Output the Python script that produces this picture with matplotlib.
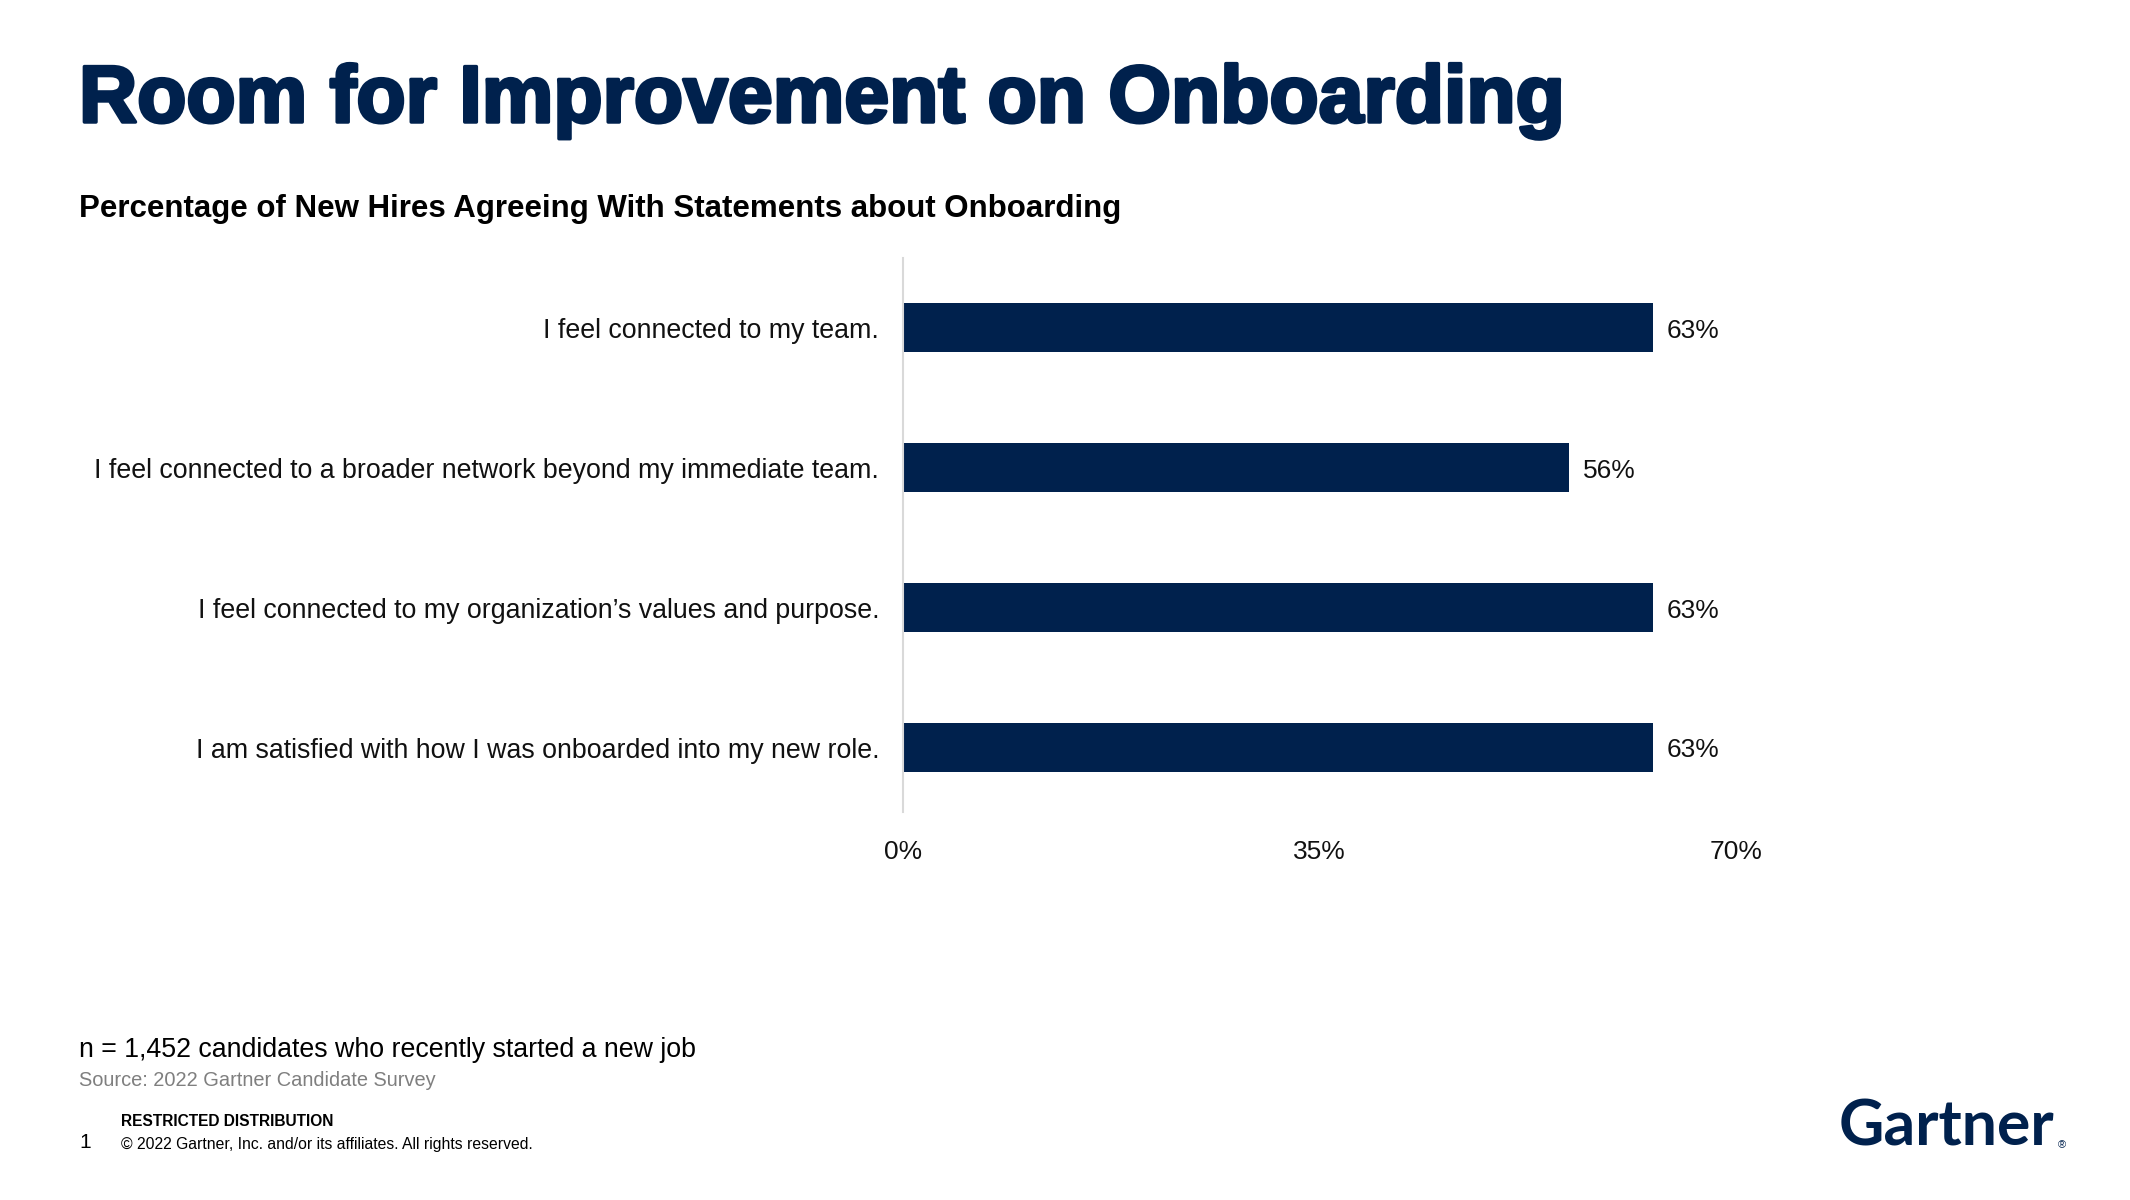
import matplotlib
matplotlib.use("Agg")
import matplotlib.pyplot as plt
import matplotlib.patheffects as pe

# data
statements = [
    "I feel connected to my team.",
    "I feel connected to a broader network beyond my immediate team.",
    "I feel connected to my organization\u2019s values and purpose.",
    "I am satisfied with how I was onboarded into my new role.",
]
pct_agree = [63, 56, 63, 63]
x_ticks = [0, 35, 70]
x_ticklabels = ["0%", "35%", "70%"]

navy = "#00214D"
plt.rcParams["font.family"] = ["Liberation Sans", "DejaVu Sans"]

fig = plt.figure(figsize=(21.3, 12), dpi=100)
ax = fig.add_axes([0.4239, 0.3233, 0.3911, 0.4617])

ypos = list(range(len(statements)))
bars = ax.barh(ypos, pct_agree, height=0.35, color=navy)
for b, v in zip(bars, pct_agree):
    ax.annotate(f"{v}%", (b.get_width(), b.get_y() + b.get_height() / 2),
                xytext=(10, -2), textcoords="offset points",
                va="center", ha="left", fontsize=19, color="#111111")

ax.set_xlim(0, 70)
ax.set_ylim(3.46, -0.5)
ax.set_yticks(ypos)
ax.set_yticklabels(statements, fontsize=19.3, color="#111111")
ax.set_xticks(x_ticks)
ax.set_xticklabels(x_ticklabels, fontsize=19, color="#111111")
ax.tick_params(axis="both", length=0)
ax.tick_params(axis="y", pad=17)
ax.tick_params(axis="x", pad=20)
for s in ["top", "right", "bottom"]:
    ax.spines[s].set_visible(False)
ax.spines["left"].set_color("#D9D9D9")
ax.spines["left"].set_linewidth(1.5)

# titles
fig.text(79 / 2130, 1 - 101 / 1200, "Room for Improvement on Onboarding",
         fontsize=58, fontweight="bold", color=navy, va="center", ha="left",
         path_effects=[pe.withStroke(linewidth=2.5, foreground=navy)])
fig.text(79 / 2130, 1 - 209 / 1200,
         "Percentage of New Hires Agreeing With Statements about Onboarding",
         fontsize=22.5, fontweight="bold", color="black", va="center", ha="left")

# footer
fig.text(79 / 2130, 1 - 1050 / 1200,
         "n = 1,452 candidates who recently started a new job",
         fontsize=19.25, color="black", va="center", ha="left")
fig.text(79 / 2130, 1 - 1080 / 1200, "Source: 2022 Gartner Candidate Survey",
         fontsize=14.4, color="#7F7F7F", va="center", ha="left")
fig.text(121 / 2130, 1 - 1121 / 1200, "RESTRICTED DISTRIBUTION",
         fontsize=11.2, fontweight="bold", color="black", va="center", ha="left")
fig.text(79 / 2130, 1 - 1143 / 1200, "1",
         fontsize=15, color="black", va="center", ha="left")
fig.text(121 / 2130, 1 - 1144 / 1200,
         "\u00a9 2022 Gartner, Inc. and/or its affiliates. All rights reserved.",
         fontsize=11.3, color="black", va="center", ha="left")

# logo
fig.text(1839 / 2130, 1 - 1128 / 1200, "Gartner", fontsize=45,
         fontweight="bold", family="Lato", color=navy, va="center", ha="left")
fig.text(2058 / 2130, 1 - 1145 / 1200, "\u00ae", fontsize=8,
         color=navy, va="center", ha="left")

fig.savefig("out.png", dpi=100, facecolor="white")
